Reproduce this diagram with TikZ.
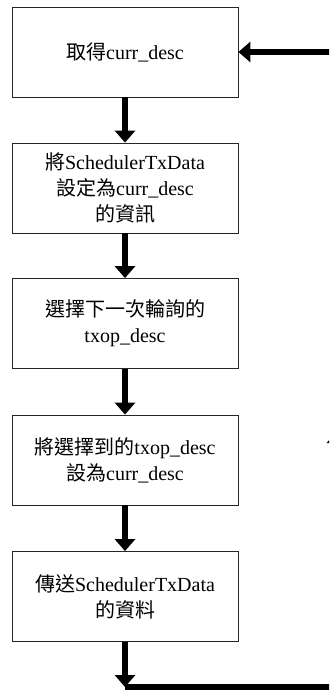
\documentclass[tikz,border=0pt]{standalone}
\usepackage{fontspec}
\setmainfont{Liberation Serif}
\newfontfamily\cjk{Noto Sans CJK TC}
\usetikzlibrary{arrows.meta}
\tikzset{
  stepbox/.style={draw=black!85, line width=0.8pt, minimum width=226pt, minimum height=90pt,
    inner sep=0pt, align=center, font=\fontsize{20}{26}\selectfont},
  flow/.style={line width=5.5pt, -{Triangle[width=20pt,length=12pt]}},
  plain/.style={line width=5.5pt}
}
\begin{document}
\begin{tikzpicture}[x=1pt,y=-1pt]
\useasboundingbox (0,0) rectangle (329,690);
\clip (0,0) rectangle (329,690);
\node[stepbox] (n1) at (125,52) {{\cjk 取得}curr\_desc};
\node[stepbox] (n2) at (125,188) {{\cjk 將}SchedulerTxData\\{\cjk 設定為}curr\_desc\\{\cjk 的資訊}};
\node[stepbox] (n3) at (125,323.5) {{\cjk 選擇下一次輪詢的}\\txop\_desc};
\node[stepbox] (n4) at (125,460) {{\cjk 將選擇到的}txop\_desc\\{\cjk 設為}curr\_desc};
\node[stepbox] (n5) at (125,596.5) {{\cjk 傳送}SchedulerTxData\\{\cjk 的資料}};
\coordinate (b) at (125,687);
\coordinate (br) at (337,687);
\coordinate (mid) at (337,431);
\coordinate (tr) at (337,52);
\draw[flow] (n1) -- (n2);
\draw[flow] (n2) -- (n3);
\draw[flow] (n3) -- (n4);
\draw[flow] (n4) -- (n5);
\draw[flow] (n5) -- (b);
\draw[flow] (b) -- (br) -- (mid);
\draw[flow] (mid) -- (tr) -- (n1.east);
\end{tikzpicture}
\end{document}
